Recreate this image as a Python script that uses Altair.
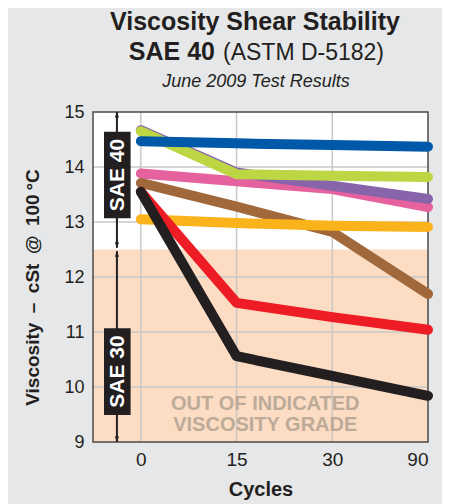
import json
import altair as alt
import pandas as pd

# ---------------- data ----------------
cycles = ["0", "15", "30", "90"]
cycle_index = [0, 1, 2, 3]

series_names = ["pink", "purple", "green", "blue", "brown", "orange", "red", "black"]
series_colors = ["#e6629f", "#8864ab", "#bdd643", "#0058a9", "#a1693b", "#fbb31b", "#ee1d25", "#231f20"]

pink_vals = [13.88, 13.74, 13.60, 13.27]
purple_vals = [14.67, 13.90, 13.66, 13.42]
green_vals = [14.65, 13.87, 13.84, 13.82]
blue_vals = [14.47, 14.43, 14.40, 14.37]
brown_vals = [13.71, 13.28, 12.82, 11.69]
orange_vals = [13.05, 12.98, 12.93, 12.91]
red_vals = [13.55, 11.53, 11.27, 11.04]
black_vals = [13.55, 10.56, 10.20, 9.84]

series_values = [pink_vals, purple_vals, green_vals, blue_vals,
                 brown_vals, orange_vals, red_vals, black_vals]

y_ticks = [9, 10, 11, 12, 13, 14, 15]
y_grid = [10, 11, 12, 13, 14]
x_grid = [0, 1, 2]

grade_boundary = 12.5  # SAE 30 / SAE 40 limit
y_min, y_max = 9, 15
x_min, x_max = -0.5, 3

band_labels = ["SAE 40", "SAE 30"]
band_low = [12.5, 9.0]
band_high = [15.0, 12.5]

out_text = ["OUT OF INDICATED", "VISCOSITY GRADE"]

# ---------------- chart ----------------
W, H = 335, 330
FONT = "Liberation Sans"
INK = "#231f20"

xs = alt.Scale(domain=[x_min, x_max], nice=False, zero=False)
ys = alt.Scale(domain=[y_min, y_max], nice=False, zero=False)

label_expr = json.dumps(cycles) + "[datum.value]"

x_axis = alt.Axis(values=cycle_index, labelExpr=label_expr, title="Cycles",
                  grid=False, ticks=False, domain=False,
                  labelFont=FONT, labelFontSize=19, labelColor=INK, labelPadding=8,
                  titleFont=FONT, titleFontSize=20, titleFontWeight="bold",
                  titleColor=INK, titlePadding=10)
y_axis = alt.Axis(values=y_ticks,
                  title="Viscosity\u2002\u2013\u2002cSt\u2002@\u2002100\u2009\u00b0C",
                  grid=False, ticks=False, domain=False,
                  labelFont=FONT, labelFontSize=18, labelColor=INK, labelPadding=9,
                  titleFont=FONT, titleFontSize=19, titleFontWeight="bold",
                  titleColor=INK, titlePadding=21, titleY=H / 2 + 10)


def X(field):
    return alt.X(field, type="quantitative", scale=xs, axis=x_axis)


def Y(field):
    return alt.Y(field, type="quantitative", scale=ys, axis=y_axis)


# out-of-grade background
bg_df = pd.DataFrame({"x": [x_min], "x2": [x_max], "y": [y_min], "y2": [grade_boundary]})
bg = alt.Chart(bg_df).mark_rect(color="#fcdcc3").encode(
    x=X("x"), x2="x2:Q", y=Y("y"), y2="y2:Q",
)

hgrid = alt.Chart(pd.DataFrame({"g": y_grid})).mark_rule(color="#c8c8c8", strokeWidth=1.5).encode(
    y=Y("g")
)
vgrid = alt.Chart(pd.DataFrame({"g": x_grid})).mark_rule(color="#c8c8c8", strokeWidth=1.5).encode(
    x=X("g")
)

frame = alt.Chart(bg_df).mark_rect(filled=False, stroke="#4a4a4a", strokeWidth=1.5).encode(
    x=alt.value(0), x2=alt.value(W), y=alt.value(0), y2=alt.value(H)
)

out_df = pd.DataFrame({"t": out_text, "x": [1.30, 1.30], "y": [9.575, 9.205]})
out_lbl = alt.Chart(out_df).mark_text(font=FONT, fontSize=20, fontWeight="bold",
                                      color="#bcab99", baseline="alphabetic").encode(
    x=X("x"), y=Y("y"), text="t:N",
)

# grade bands: arrows and labels
arrow_x = -0.25
arr_df = pd.DataFrame({"x": [arrow_x, arrow_x], "y": [band_high[0], band_high[1] - 0.03],
                       "y2": [band_low[0] + 0.03, band_low[1]]})
arr_line = alt.Chart(arr_df).mark_rule(color=INK, strokeWidth=2).encode(
    x=X("x"), y=Y("y"), y2="y2:Q",
)
up_df = pd.DataFrame({"x": [arrow_x, arrow_x], "y": [band_high[0], band_high[1] - 0.03]})
dn_df = pd.DataFrame({"x": [arrow_x, arrow_x], "y": [band_low[0] + 0.03, band_low[1]]})
up_head = alt.Chart(up_df).mark_point(shape="M0,0L-0.42,1.1L0.42,1.1Z", filled=True,
                                      color=INK, opacity=1, size=100, strokeWidth=0).encode(
    x=X("x"), y=Y("y"))
dn_head = alt.Chart(dn_df).mark_point(shape="M0,0L-0.42,-1.1L0.42,-1.1Z", filled=True,
                                      color=INK, opacity=1, size=100, strokeWidth=0).encode(
    x=X("x"), y=Y("y"))

box_df = pd.DataFrame({"t": band_labels, "x": [-0.385, -0.385], "x2": [-0.107, -0.107],
                       "y": [14.64, 11.07], "y2": [13.07, 9.49], "yc": [13.855, 10.28],
                       "xc": [-0.246, -0.246]})
box = alt.Chart(box_df).mark_rect(color=INK).encode(
    x=X("x"), x2="x2:Q", y=Y("y"), y2="y2:Q",
)
box_txt = alt.Chart(box_df).mark_text(font=FONT, fontSize=21, fontWeight="bold", color="white",
                                      angle=270, baseline="middle", align="center", dy=1).encode(
    x=X("xc"), y=Y("yc"), text="t:N",
)

# series lines
line_layers = []
for name, color, vals in zip(series_names, series_colors, series_values):
    df = pd.DataFrame({"i": cycle_index, "v": vals})
    line_layers.append(
        alt.Chart(df).mark_line(color=color, strokeWidth=10, strokeCap="round",
                                strokeJoin="round", clip=False).encode(
            x=X("i"), y=Y("v"),
        )
    )

# titles
t1 = alt.Chart(bg_df).mark_text(text="Viscosity Shear Stability", font=FONT, fontSize=25,
                                fontWeight="bold", color=INK, align="center",
                                baseline="alphabetic").encode(x=alt.value(162), y=alt.value(-82))
t2a = alt.Chart(bg_df).mark_text(text="SAE 40", font=FONT, fontSize=25, fontWeight="bold",
                                 color=INK, align="right", baseline="alphabetic").encode(
    x=alt.value(122), y=alt.value(-52))
t2b = alt.Chart(bg_df).mark_text(text="(ASTM D-5182)", font=FONT, fontSize=23, color=INK,
                                 align="left", baseline="alphabetic").encode(
    x=alt.value(130), y=alt.value(-52))
t3 = alt.Chart(bg_df).mark_text(text="June 2009 Test Results", font=FONT, fontSize=18,
                                fontStyle="italic", color=INK, align="center",
                                baseline="alphabetic").encode(x=alt.value(163), y=alt.value(-25))

chart = alt.layer(
    bg, hgrid, vgrid, out_lbl, frame, arr_line, up_head, dn_head, box, box_txt,
    *line_layers, t1, t2a, t2b, t3
).properties(
    width=W, height=H,
    autosize=alt.AutoSizeParams(type="none"),
    padding={"left": 85, "top": 104, "right": 14, "bottom": 62},
).configure(
    background="#e6e7e8",
).configure_view(stroke=None, fill="white")

chart.save("out.html", embed_options={"renderer": "svg", "actions": False})
